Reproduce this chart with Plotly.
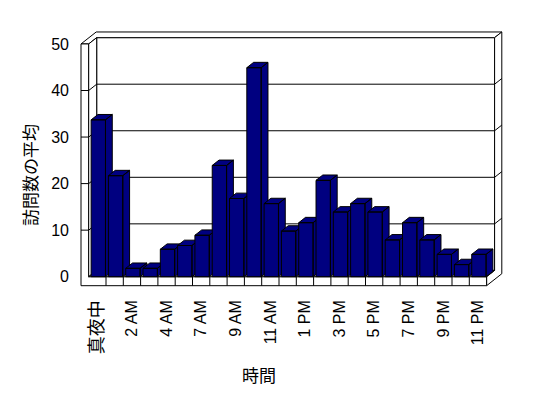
import plotly.graph_objects as go

# ---------------- data ----------------
categories = ["真夜中", "1 AM", "2 AM", "3 AM", "4 AM", "6 AM", "7 AM", "8 AM",
              "9 AM", "10 AM", "11 AM", "正午", "1 PM", "2 PM", "3 PM", "4 PM",
              "5 PM", "6 PM", "7 PM", "8 PM", "9 PM", "10 PM", "11 PM"]
avg_visits = [33.7, 21.7, 1.8, 1.8, 5.9, 6.7, 8.9, 23.9, 16.8, 44.9, 15.7, 9.8,
              11.6, 20.7, 13.9, 15.7, 13.9, 7.9, 11.6, 7.9, 4.8, 2.6, 4.8]
y_ticks = [0, 10, 20, 30, 40, 50]
y_title = "訪問数の平均"
x_title = "時間"

# ---------------- layout constants (pixels) ----------------
FIG_W, FIG_H = 548, 398
PLOT_L, PLOT_R, PLOT_T, PLOT_B = 76, 508, 28, 290
FLOOR_LEFT_PX = 88.7      # pixel x of category edge -0.5 on the front floor
CAT_PX = 17.3             # pixels per category
ZERO_PX = 276.7           # pixel y of value 0 on the front plane
UNIT_PX = 4.655           # pixels per value unit

xr0 = -0.5 - (FLOOR_LEFT_PX - PLOT_L) / CAT_PX
xr1 = xr0 + (PLOT_R - PLOT_L) / CAT_PX
yr0 = -(PLOT_B - ZERO_PX) / UNIT_PX
yr1 = yr0 + (PLOT_B - PLOT_T) / UNIT_PX

n = len(categories)
XL, XR = -0.5, n - 0.5
YMAX = y_ticks[-1]
DPX, DPY = 8.0 / CAT_PX, 6.3 / UNIT_PX       # oblique offset per depth unit
WALL_T = 7.7 / CAT_PX                          # left wall thickness
FLOOR_T = 9.0 / UNIT_PX                        # floor thickness
BACK_D = 1.9                                   # depth of back wall rear face
BAR_L, BAR_R, BAR_D = -0.36, 0.47, 0.85        # bar extent within category

NAVY = "#000080"


def P(x, y, d=0.0):
    return (x + d * DPX, y + d * DPY)


fig = go.Figure()


def add_polys(polys, fill):
    xs, ys = [], []
    for poly in polys:
        pts = list(poly) + [poly[0]]
        xs += [p[0] for p in pts] + [None]
        ys += [p[1] for p in pts] + [None]
    fig.add_trace(go.Scatter(x=xs, y=ys, mode="lines", fill="toself",
                             fillcolor=fill, line=dict(color="black", width=1),
                             hoverinfo="skip", showlegend=False))


def add_segments(segs):
    xs, ys = [], []
    for a, b in segs:
        xs += [a[0], b[0], None]
        ys += [a[1], b[1], None]
    fig.add_trace(go.Scatter(x=xs, y=ys, mode="lines",
                             line=dict(color="black", width=1),
                             hoverinfo="skip", showlegend=False))


# walls and floor
add_polys([[P(XL, 0, 1), P(XR, 0, 1), P(XR, YMAX, 1), P(XL, YMAX, 1)]], "white")
add_polys([[P(XL - WALL_T, YMAX, 0), P(XL, YMAX, 0), P(XL, YMAX, 1), P(XR, YMAX, 1),
            P(XR, YMAX, BACK_D), P(XL - WALL_T, YMAX, BACK_D)]], "white")
add_polys([[P(XR, -FLOOR_T, 0), P(XR, -FLOOR_T, BACK_D), P(XR, YMAX, BACK_D),
            P(XR, YMAX, 1), P(XR, 0, 1), P(XR, 0, 0)]], "white")
add_polys([[(XL - WALL_T, -FLOOR_T), (XR, -FLOOR_T), (XR, 0), (XL, 0),
            (XL, YMAX), (XL - WALL_T, YMAX)]], "white")
add_polys([[P(XL, 0, 0), P(XL, 0, 1), P(XL, YMAX, 1), P(XL, YMAX, 0)]], "white")
add_polys([[P(XL, 0, 0), P(XR, 0, 0), P(XR, 0, 1), P(XL, 0, 1)]], "white")

segs = []
for v in y_ticks[1:-1]:
    segs.append((P(XL, v, 1), P(XR, v, 1)))
    segs.append((P(XL, v, 0), P(XL, v, 1)))
    segs.append(((XL - WALL_T, v), (XL, v)))
    segs.append((P(XR, v, 1), P(XR, v, BACK_D)))
for k in range(1, n):
    segs.append(((XL + k, -FLOOR_T), (XL + k, 0)))
add_segments(segs)

# 3D bars, drawn left to right so each covers its left neighbour's side
for i, h in enumerate(avg_visits):
    x0, x1 = i + BAR_L, i + BAR_R
    front = [(x0, 0), (x1, 0), (x1, h), (x0, h)]
    top = [(x0, h), (x1, h), P(x1, h, BAR_D), P(x0, h, BAR_D)]
    side = [(x1, 0), P(x1, 0, BAR_D), P(x1, h, BAR_D), (x1, h)]
    add_polys([front, top, side], NAVY)

tick_idx = list(range(0, n, 2))
tick_text = []
for i in tick_idx:
    lab = categories[i]
    if any(ord(c) > 0x2E80 for c in lab):
        lab = '<span style="font-size:18px">' + lab + '</span>'
    tick_text.append(lab)

W_plot = PLOT_R - PLOT_L
H_plot = PLOT_B - PLOT_T

fig.update_layout(
    width=FIG_W, height=FIG_H,
    margin=dict(l=PLOT_L, r=FIG_W - PLOT_R, t=PLOT_T, b=FIG_H - PLOT_B, pad=0),
    paper_bgcolor="white", plot_bgcolor="white",
    font=dict(family="Liberation Sans, Noto Sans CJK JP", size=16, color="black"),
    showlegend=False,
    xaxis=dict(range=[xr0, xr1], tickvals=tick_idx, ticktext=tick_text,
               tickangle=-90, showgrid=False, zeroline=False, showline=False,
               ticks="", ticklabelstandoff=6, fixedrange=True),
    yaxis=dict(range=[yr0, yr1], tickvals=y_ticks, ticktext=[str(v) for v in y_ticks],
               showgrid=False, zeroline=False, showline=False, ticks="",
               ticklabelstandoff=6, fixedrange=True),
    annotations=[
        dict(text=y_title, textangle=-90, xref="paper", yref="paper",
             x=(29 - PLOT_L) / W_plot, y=(PLOT_B - 175) / H_plot,
             xanchor="center", yanchor="middle", showarrow=False,
             font=dict(family="Noto Sans CJK JP", size=17)),
        dict(text=x_title, xref="paper", yref="paper",
             x=(259 - PLOT_L) / W_plot, y=(PLOT_B - 374.5) / H_plot,
             xanchor="center", yanchor="middle", showarrow=False,
             font=dict(family="Noto Sans CJK JP", size=17)),
    ],
)

fig.write_html("out.html")
